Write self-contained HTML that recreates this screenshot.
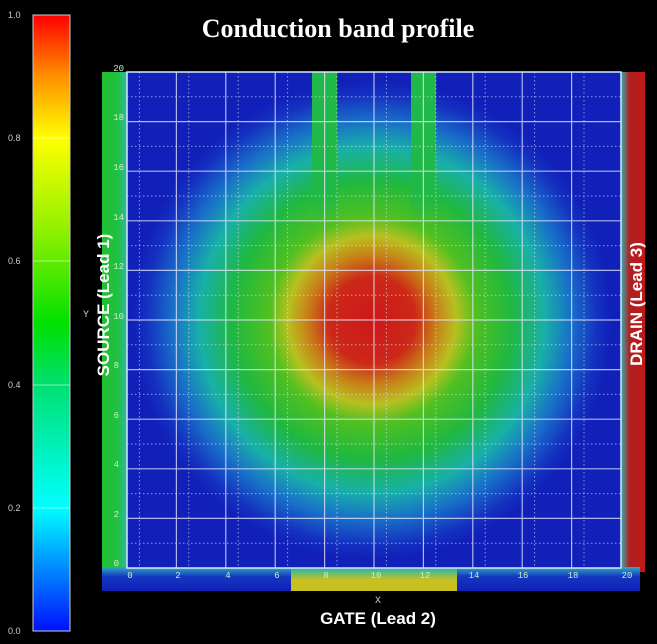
<!DOCTYPE html>
<html><head><meta charset="utf-8"><style>
html,body{margin:0;padding:0;background:#000;}
svg{display:block;}
</style></head><body>
<svg width="657" height="644" viewBox="0 0 657 644" xmlns="http://www.w3.org/2000/svg" font-family="Liberation Sans, sans-serif">
<defs>
<linearGradient id="cb" x1="0" y1="1" x2="0" y2="0">
<stop offset="0" stop-color="#0010ff"/>
<stop offset="0.2" stop-color="#00ffff"/>
<stop offset="0.4" stop-color="#00e070"/>
<stop offset="0.5" stop-color="#00e000"/>
<stop offset="0.65" stop-color="#90f000"/>
<stop offset="0.8" stop-color="#ffff00"/>
<stop offset="0.9" stop-color="#ff9000"/>
<stop offset="1" stop-color="#ff0000"/>
</linearGradient>
<radialGradient id="rg" cx="372" cy="320" r="240" gradientUnits="userSpaceOnUse">
<stop offset="0" stop-color="#cc1818"/>
<stop offset="0.18" stop-color="#cc2818"/>
<stop offset="0.27" stop-color="#c88018"/>
<stop offset="0.35" stop-color="#b8c020"/>
<stop offset="0.43" stop-color="#50c020"/>
<stop offset="0.58" stop-color="#20b840"/>
<stop offset="0.72" stop-color="#18b0a8"/>
<stop offset="0.83" stop-color="#1870c8"/>
<stop offset="0.94" stop-color="#1430c0"/>
<stop offset="1" stop-color="#1020b8"/>
</radialGradient>
<linearGradient id="vs" x1="0" y1="0" x2="0" y2="1">
<stop offset="0" stop-color="#20b848"/>
<stop offset="0.75" stop-color="#20b848"/>
<stop offset="1" stop-color="#20b848" stop-opacity="0"/>
</linearGradient>
<linearGradient id="ls" x1="0" y1="0" x2="1" y2="0">
<stop offset="0" stop-color="#20c030"/>
<stop offset="0.6" stop-color="#20c040"/>
<stop offset="1" stop-color="#30b8a0"/>
</linearGradient>
<linearGradient id="rs" x1="0" y1="0" x2="1" y2="0">
<stop offset="0" stop-color="#30b0b0"/>
<stop offset="0.35" stop-color="#b02020"/>
<stop offset="1" stop-color="#c01818"/>
</linearGradient>
<linearGradient id="gate" x1="0" y1="0" x2="0" y2="1">
<stop offset="0" stop-color="#30b8a0"/>
<stop offset="0.5" stop-color="#c8c020"/>
<stop offset="1" stop-color="#c8c020"/>
</linearGradient>
<linearGradient id="bb" x1="0" y1="0" x2="0" y2="1">
<stop offset="0" stop-color="#30a8c0"/>
<stop offset="0.4" stop-color="#1438c0"/>
<stop offset="1" stop-color="#1020b8"/>
</linearGradient>
</defs>
<rect x="33" y="15" width="37" height="616" fill="url(#cb)" stroke="#ccc" stroke-width="1"/>
<g stroke="#fff" stroke-opacity="0.5" stroke-width="1">
<line x1="33" y1="138" x2="70" y2="138"/><line x1="33" y1="261" x2="70" y2="261"/>
<line x1="33" y1="385" x2="70" y2="385"/><line x1="33" y1="508" x2="70" y2="508"/>
</g>
<g fill="#ccc" font-size="9">
<text x="8" y="18">1.0</text><text x="8" y="141">0.8</text><text x="8" y="264">0.6</text>
<text x="8" y="388">0.4</text><text x="8" y="511">0.2</text><text x="8" y="634">0.0</text>
</g>
<text x="338" y="37" fill="#fff" font-family="Liberation Serif, serif" font-weight="bold" font-size="26" text-anchor="middle">Conduction band profile</text>
<rect x="102" y="72" width="25" height="500" fill="url(#ls)"/>
<rect x="621" y="72" width="24" height="500" fill="url(#rs)"/>
<rect x="102" y="567" width="538" height="24" fill="url(#bb)"/>
<rect x="291" y="569" width="166" height="22" fill="url(#gate)"/>
<rect x="127" y="72" width="494" height="496" fill="url(#rg)"/>
<rect x="312" y="72" width="25" height="150" fill="url(#vs)"/>
<rect x="411" y="72" width="25" height="150" fill="url(#vs)"/>
<g stroke="#e8e8ff" stroke-width="1" stroke-dasharray="1.5,2.5" opacity="0.6">
<line x1="139.4" y1="72" x2="139.4" y2="568"/><line x1="188.8" y1="72" x2="188.8" y2="568"/>
<line x1="238.2" y1="72" x2="238.2" y2="568"/><line x1="287.6" y1="72" x2="287.6" y2="568"/>
<line x1="337" y1="72" x2="337" y2="568"/><line x1="386.4" y1="72" x2="386.4" y2="568"/>
<line x1="435.8" y1="72" x2="435.8" y2="568"/><line x1="485.2" y1="72" x2="485.2" y2="568"/>
<line x1="534.6" y1="72" x2="534.6" y2="568"/><line x1="584" y1="72" x2="584" y2="568"/>
<line x1="127" y1="96.8" x2="621" y2="96.8"/><line x1="127" y1="146.4" x2="621" y2="146.4"/>
<line x1="127" y1="196" x2="621" y2="196"/><line x1="127" y1="245.6" x2="621" y2="245.6"/>
<line x1="127" y1="295.2" x2="621" y2="295.2"/><line x1="127" y1="344.8" x2="621" y2="344.8"/>
<line x1="127" y1="394.4" x2="621" y2="394.4"/><line x1="127" y1="444" x2="621" y2="444"/>
<line x1="127" y1="493.6" x2="621" y2="493.6"/><line x1="127" y1="543.2" x2="621" y2="543.2"/>
</g>
<g stroke="#e8e8ff" stroke-width="1.2" opacity="0.75">
<line x1="176.4" y1="72" x2="176.4" y2="568"/><line x1="225.8" y1="72" x2="225.8" y2="568"/>
<line x1="275.2" y1="72" x2="275.2" y2="568"/><line x1="324.6" y1="72" x2="324.6" y2="568"/>
<line x1="374" y1="72" x2="374" y2="568"/><line x1="423.4" y1="72" x2="423.4" y2="568"/>
<line x1="472.8" y1="72" x2="472.8" y2="568"/><line x1="522.2" y1="72" x2="522.2" y2="568"/>
<line x1="571.6" y1="72" x2="571.6" y2="568"/>
<line x1="127" y1="121.6" x2="621" y2="121.6"/><line x1="127" y1="171.2" x2="621" y2="171.2"/>
<line x1="127" y1="220.8" x2="621" y2="220.8"/><line x1="127" y1="270.4" x2="621" y2="270.4"/>
<line x1="127" y1="320" x2="621" y2="320"/><line x1="127" y1="369.6" x2="621" y2="369.6"/>
<line x1="127" y1="419.2" x2="621" y2="419.2"/><line x1="127" y1="468.8" x2="621" y2="468.8"/>
<line x1="127" y1="518.4" x2="621" y2="518.4"/>
</g>
<rect x="127" y="72" width="494" height="496" fill="none" stroke="#d8e8ff" stroke-width="1.5"/>
<g fill="#c8f0c8" font-family="Liberation Mono, monospace" font-size="9" text-anchor="middle">
<text x="130" y="578">0</text><text x="178" y="578">2</text><text x="228" y="578">4</text>
<text x="277" y="578">6</text><text x="326" y="578">8</text><text x="376" y="578">10</text>
<text x="425" y="578">12</text><text x="474" y="578">14</text><text x="523" y="578">16</text>
<text x="573" y="578">18</text><text x="627" y="578">20</text>
</g>
<g fill="#c8f0c8" font-family="Liberation Mono, monospace" font-size="9" text-anchor="end">
<text x="124" y="71">20</text><text x="124" y="120">18</text><text x="124" y="170">16</text>
<text x="124" y="220">14</text><text x="124" y="269">12</text><text x="124" y="319">10</text>
<text x="119" y="368">8</text><text x="119" y="418">6</text><text x="119" y="467">4</text>
<text x="119" y="517">2</text><text x="119" y="566">0</text>
</g>
<text x="378" y="603" fill="#ccc" font-family="Liberation Mono, monospace" font-size="10" text-anchor="middle">X</text>
<text x="86" y="317" fill="#ccc" font-family="Liberation Mono, monospace" font-size="10" text-anchor="middle">Y</text>
<text x="378" y="624" fill="#fff" font-weight="bold" font-size="17" text-anchor="middle">GATE (Lead 2)</text>
<text transform="translate(109,305) rotate(-90)" fill="#fff" font-weight="bold" font-size="17" text-anchor="middle">SOURCE (Lead 1)</text>
<text transform="translate(642,304) rotate(-90)" fill="#fff" font-weight="bold" font-size="17" text-anchor="middle">DRAIN (Lead 3)</text>
</svg>
</body></html>
